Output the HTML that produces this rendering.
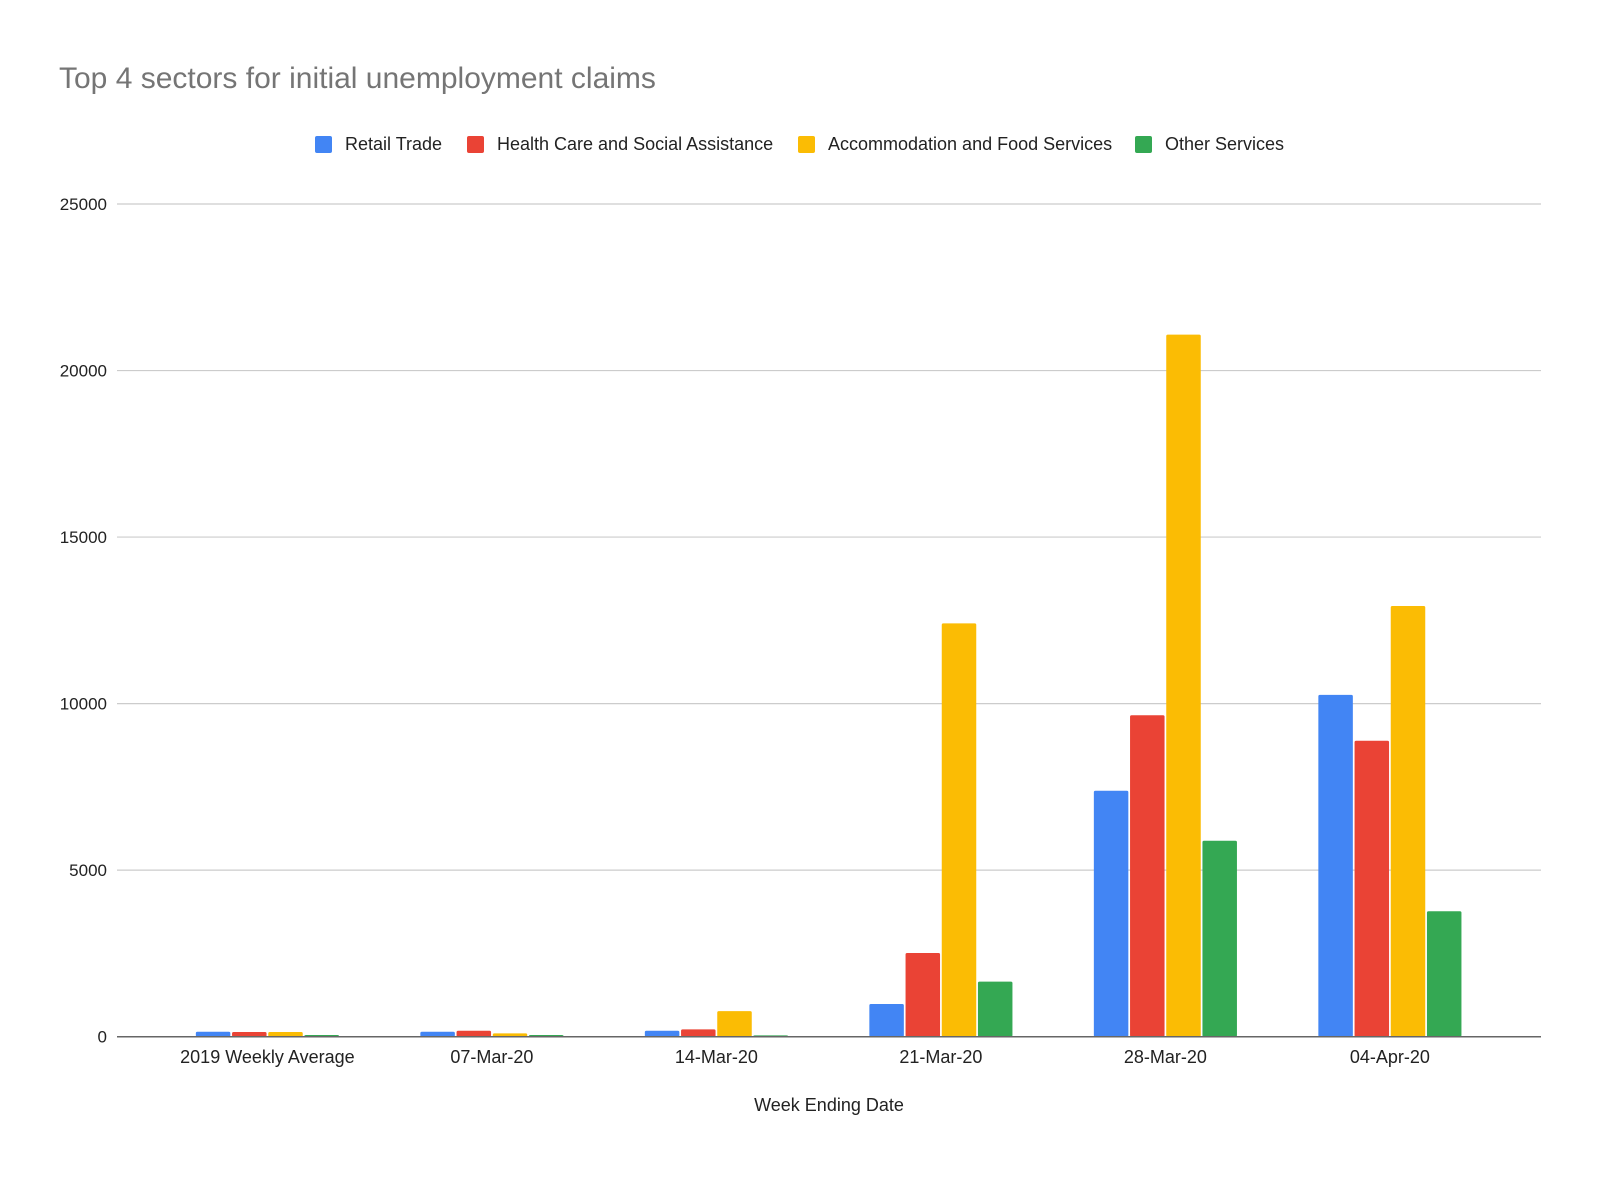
<!DOCTYPE html>
<html><head><meta charset="utf-8"><style>
body{margin:0;background:#fff;}
svg text{font-family:"Liberation Sans",Arial,sans-serif;}
</style></head><body>
<svg id="chart" width="1600" height="1174" viewBox="0 0 1600 1174">
<rect width="1600" height="1174" fill="#fff"/>
<text x="59" y="88" font-size="30" fill="#757575">Top 4 sectors for initial unemployment claims</text>
<g id="legend"></g>
<g id="grid"></g>
<g id="bars"></g>
<g id="xlabels"></g>
<text x="829" y="1111" font-size="18" text-anchor="middle" fill="#222">Week Ending Date</text>
</svg>
<script>
const categories=["2019 Weekly Average","07-Mar-20","14-Mar-20","21-Mar-20","28-Mar-20","04-Apr-20"];
const seriesNames=["Retail Trade","Health Care and Social Assistance","Accommodation and Food Services","Other Services"];
const retail=[150,150,180,980,7384,10263];
const health=[140,180,220,2512,9650,8885];
const accom=[140,100,766,12408,21078,12929];
const other=[50,50,40,1654,5882,3768];
const yTicks=[0,5000,10000,15000,20000,25000];
const colors=["#4285f4","#ea4335","#fbbc04","#34a853"];
const NS="http://www.w3.org/2000/svg";
const svg=document.getElementById('chart');
function mk(tag,attrs,parent,txt){const e=document.createElementNS(NS,tag);for(const k in attrs)e.setAttribute(k,attrs[k]);if(txt!==undefined)e.textContent=txt;parent.appendChild(e);return e;}
const y0=1036.7,yTop=204,axL=117,axR=1541;
function y(v){return y0-(v/25000)*(y0-yTop);}
function xc(i){return 267.4+224.5*i;}
const grid=document.getElementById('grid');
yTicks.forEach(t=>{
  if(t>0){const l=mk('line',{x1:axL,x2:axR,y1:y(t),y2:y(t),stroke:'#ccc','stroke-width':1.2},grid);
  
  }
  const tx=mk('text',{x:107,y:y(t)+6,'font-size':17,'text-anchor':'end',fill:'#222'},grid,String(t));
  
  
});
const series=[retail,health,accom,other];
const bars=document.getElementById('bars');
const bw=34.5,step=36.2;
categories.forEach((c,i)=>{
  series.forEach((s,j)=>{
    const x=xc(i)-2*step+j*step+(step-bw)/2;
    const top=y(s[i]);
    const r=mk('rect',{x:x,y:top,width:bw,height:Math.max(y0-top,1),fill:colors[j],rx:1.5},bars);
    
    
  });
  const t=mk('text',{x:xc(i),y:1063,'font-size':18,'text-anchor':'middle',fill:'#222'},document.getElementById('xlabels'),c);
  
  
});
const ax=mk('line',{x1:axL,x2:axR,y1:y0,y2:y0,stroke:'#666','stroke-width':1.5},svg);


const leg=document.getElementById('legend');
const lx=[315,467,798,1135];
seriesNames.forEach((n,j)=>{
  const g=mk('g',{},leg);
  
  
  mk('rect',{x:lx[j],y:136,width:17,height:17,rx:2,fill:colors[j]},g);
  mk('text',{x:lx[j]+30,y:150,'font-size':18,fill:'#222'},g,n);
});
</script>
</body></html>
